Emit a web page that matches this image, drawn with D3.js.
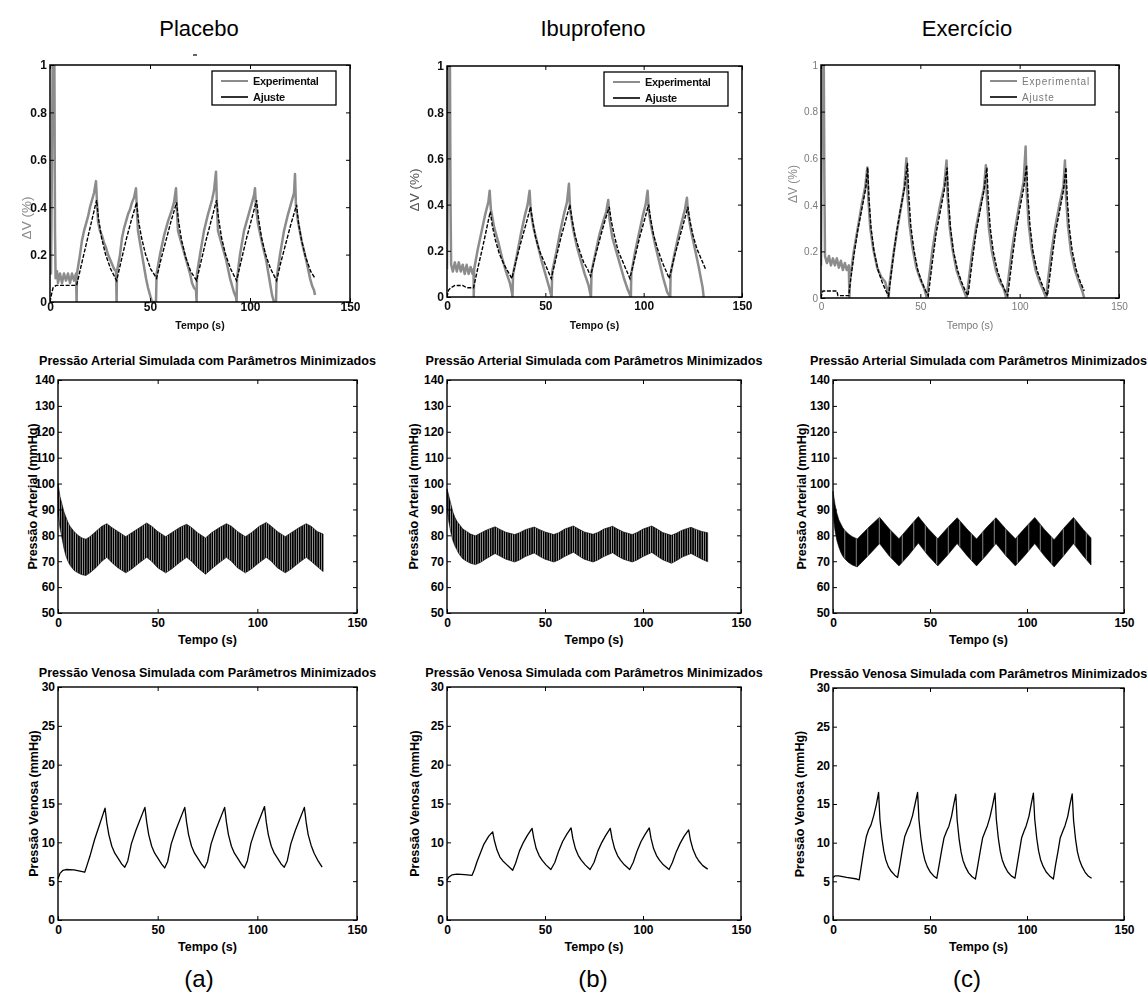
<!DOCTYPE html>
<html>
<head>
<meta charset="utf-8">
<script src="https://cdn.jsdelivr.net/npm/d3@7"></script>
<style>
  body { margin: 0; background: #fff; }
  svg { display: block; }
</style>
</head>
<body>
<svg id="fig" width="1147" height="1005"></svg>
<script>
// ---------------------------------------------------------------
// Groups and tick values
// ---------------------------------------------------------------
const groupNames = ["Placebo", "Ibuprofeno", "Exercício"];
const groupLetters = ["(a)", "(b)", "(c)"];
const timeTicks = [0, 50, 100, 150];
const dvTicks = [0, 0.2, 0.4, 0.6, 0.8, 1];
const dvTickLabels = ["0", "0.2", "0.4", "0.6", "0.8", "1"];
const arterialTicks = [50, 60, 70, 80, 90, 100, 110, 120, 130, 140];
const venousTicks = [0, 5, 10, 15, 20, 25, 30];
const legendLabels = ["Experimental", "Ajuste"];

// ---------------------------------------------------------------
// Volume change ΔV (%) : [time s, value]
// ---------------------------------------------------------------
const dvPlaceboExp = [
  [0,0.14],[0.5,0.12],[1,0.6],[1.3,1.0],[2.2,1.0],[2.5,0.3],[2.8,0.1],[3.5,0.13],[4,0.08],[5,0.12],[6,0.08],
  [7,0.12],[8,0.09],[9,0.12],[10,0.08],[11,0.12],[12,0.09],[13,0.12],[13.3,0.0],[13.5,0.12],[15,0.2],[16,0.26],
  [17,0.3],[18,0.33],[19,0.36],[20,0.4],[21,0.43],[22,0.46],[23,0.51],[23.5,0.42],[24,0.34],[25,0.3],[26,0.28],
  [27,0.25],[28,0.23],[29,0.2],[30,0.18],[31,0.16],[32,0.14],[33,0.13],[33.3,0.0],[33.5,0.13],[35,0.2],[36,0.27],
  [37,0.31],[38,0.34],[39,0.37],[40,0.39],[41,0.42],[42,0.44],[43,0.48],[43.5,0.38],[44,0.3],[45,0.25],[46,0.2],
  [47,0.15],[48,0.1],[49,0.06],[50,0.03],[51,0.0],[53,0.0],[53.3,0.12],[55,0.2],[57,0.28],[59,0.34],[61,0.39],
  [62,0.42],[63,0.48],[63.5,0.38],[64,0.3],[66,0.24],[68,0.18],[70,0.12],[71,0.08],[72,0.06],[73,0.05],[73.3,0.0],
  [73.5,0.12],[75,0.2],[77,0.3],[79,0.37],[81,0.43],[82,0.47],[83,0.55],[83.5,0.4],[84,0.3],[86,0.24],[88,0.18],
  [90,0.1],[91,0.07],[92,0.04],[93,0.02],[93.3,0.0],[93.5,0.1],[95,0.2],[97,0.3],[99,0.36],[101,0.42],[102,0.45],
  [102.5,0.48],[103,0.4],[104,0.33],[106,0.25],[108,0.18],[110,0.08],[111,0.03],[112,0.0],[113,0.0],[113.3,0.1],
  [115,0.2],[117,0.3],[119,0.37],[121,0.43],[122,0.46],[122.5,0.54],[123,0.4],[124,0.34],[126,0.25],[128,0.18],
  [130,0.1],[131,0.07],[132,0.05],[132.5,0.03]
];
const dvPlaceboFit = [
  [0,0],[0.7,0.03],[1.5,0.06],[3,0.07],[8,0.07],[13.3,0.07],
  [15.5,0.15],[18,0.24],[20.5,0.33],[23.3,0.43],[24.3,0.35],[25.8,0.27],[27.8,0.2],[30.3,0.14],[33.3,0.09],
  [35.5,0.17],[38,0.26],[40.5,0.34],[43.3,0.42],[44.3,0.34],[45.8,0.27],[47.8,0.2],[50.3,0.14],[53.3,0.1],
  [55.5,0.18],[58,0.26],[60.5,0.34],[63.3,0.42],[64.3,0.34],[65.8,0.26],[67.8,0.19],[70.3,0.13],[73.3,0.09],
  [75.5,0.17],[78,0.26],[80.5,0.34],[83.3,0.43],[84.3,0.35],[85.8,0.27],[87.8,0.2],[90.3,0.14],[93.3,0.09],
  [95.5,0.17],[98,0.26],[100.5,0.34],[103.3,0.43],[104.3,0.35],[105.8,0.27],[107.8,0.2],[110.3,0.14],[113.3,0.09],
  [115.5,0.17],[118,0.25],[120.5,0.33],[123.3,0.41],[124.3,0.33],[125.8,0.26],[127.8,0.19],[130.3,0.13],[132.5,0.1]
];

const dvIbuprofenoExp = [
  [0,0.12],[0.4,0.5],[0.7,1.0],[1.5,1.0],[1.8,0.4],[2.1,0.14],[3,0.11],[4,0.15],[5,0.11],[6,0.15],[7,0.11],
  [8,0.14],[9,0.1],[10,0.14],[11,0.1],[12,0.13],[13,0.1],[13.5,0.12],[13.6,0.0],[13.8,0.12],[15.5,0.2],[17.5,0.28],
  [19.5,0.36],[21,0.41],[21.7,0.46],[22.3,0.38],[24,0.3],[26,0.24],[28,0.17],[30,0.11],[32,0.06],[33,0.02],
  [33.3,0.0],[33.6,0.1],[35.5,0.18],[37.5,0.27],[39.5,0.35],[41,0.4],[42,0.46],[42.6,0.37],[44,0.3],[46,0.23],
  [48,0.16],[50,0.1],[52,0.04],[53.2,0.0],[53.5,0.11],[55.5,0.19],[57.5,0.28],[59.5,0.36],[61,0.41],[62,0.49],
  [62.6,0.38],[64,0.3],[66,0.22],[68,0.16],[70,0.1],[72,0.05],[73.2,0.0],[73.5,0.11],[75.5,0.19],[77.5,0.27],
  [79.5,0.33],[81,0.37],[82,0.42],[82.6,0.34],[84,0.26],[86,0.2],[88,0.14],[90,0.08],[92,0.03],[93.5,0.0],
  [93.7,0.1],[95.5,0.19],[97.5,0.27],[99.5,0.35],[101,0.4],[102,0.46],[102.6,0.37],[104,0.3],[106,0.22],
  [108,0.15],[110,0.08],[112,0.02],[113.5,0.0],[113.7,0.1],[115.5,0.18],[117.5,0.26],[119.5,0.33],[121,0.38],
  [122,0.43],[122.6,0.36],[124,0.29],[126,0.21],[128,0.13],[130,0.04],[130.5,0.0]
];
const dvIbuprofenoFit = [
  [0,0],[0.8,0.03],[2,0.04],[4,0.05],[8,0.05],[10,0.04],[13.5,0.04],
  [15.8,0.13],[18,0.21],[20,0.29],[22,0.37],[23,0.31],[24.5,0.25],[26.5,0.19],[29,0.14],[31,0.11],[33,0.08],
  [35.5,0.17],[38,0.25],[40.3,0.32],[42.5,0.39],[43.5,0.33],[45,0.26],[47,0.2],[49.5,0.15],[51.5,0.11],[53,0.08],
  [55.5,0.17],[58,0.26],[60.3,0.33],[62.5,0.4],[63.5,0.34],[65,0.27],[67,0.21],[69.5,0.15],[71.5,0.12],[73,0.09],
  [75.5,0.18],[78,0.26],[80.3,0.33],[82.5,0.39],[83.5,0.33],[85,0.27],[87,0.2],[89.5,0.15],[91.5,0.11],[93,0.08],
  [95.5,0.17],[98,0.26],[100.3,0.33],[102.5,0.4],[103.5,0.34],[105,0.27],[107,0.21],[109.5,0.15],[111.5,0.11],[113,0.08],
  [115.5,0.17],[118,0.25],[120.3,0.32],[122.5,0.39],[123.5,0.33],[125,0.27],[127,0.21],[129.5,0.16],[131.5,0.12]
];

const dvExercicioExp = [
  [0,0.14],[0.3,0.6],[0.6,1.0],[1.4,1.0],[1.7,0.5],[2,0.18],[3,0.15],[4,0.18],[5,0.14],[6,0.17],[7,0.14],
  [8,0.17],[9,0.13],[10,0.16],[11,0.12],[12,0.15],[13,0.12],[14,0.14],[14.3,0.0],[14.6,0.08],[16.5,0.2],
  [18.5,0.3],[20.5,0.4],[22.3,0.48],[23.3,0.56],[23.8,0.43],[24.8,0.3],[26.3,0.21],[28.3,0.13],[30.3,0.09],
  [32.3,0.07],[33.5,0.03],[34,0.0],[34.5,0.06],[36.5,0.19],[38.5,0.3],[40.5,0.4],[42,0.48],[43,0.6],[43.5,0.45],
  [44.5,0.32],[46,0.22],[48,0.13],[50,0.08],[52,0.04],[53.3,0.0],[54,0.06],[56,0.2],[58,0.31],[60,0.4],[62,0.48],
  [63.2,0.59],[63.7,0.44],[64.7,0.31],[66.2,0.21],[68.2,0.12],[70.2,0.07],[72,0.03],[73.3,0.0],[74,0.05],[76,0.19],
  [78,0.3],[80,0.39],[82,0.47],[83,0.57],[83.5,0.43],[84.5,0.3],[86,0.2],[88,0.12],[90,0.07],[92,0.04],[93.3,0.0],
  [94,0.06],[96,0.2],[98,0.31],[100,0.41],[102,0.5],[103,0.65],[103.5,0.46],[104.5,0.32],[106,0.21],[108,0.12],
  [110,0.07],[112,0.03],[113.3,0.0],[114,0.06],[116,0.2],[118,0.31],[120,0.4],[122,0.48],[122.8,0.59],[123.3,0.44],
  [124.3,0.31],[125.8,0.2],[127.8,0.12],[129.8,0.07],[131.5,0.03],[132.5,0.0]
];
const dvExercicioFit = [
  [0,0],[0.5,0.02],[1,0.03],[8,0.03],[8.5,0.01],[14,0.01],
  [14.5,0.05],[16.5,0.18],[18.5,0.29],[20.5,0.38],[22.5,0.47],[23.5,0.56],[24.2,0.42],[25.2,0.3],[26.7,0.2],[28.7,0.12],[30.7,0.07],[32.7,0.03],[34,0.01],
  [36,0.15],[38,0.28],[40,0.38],[42,0.47],[43.5,0.58],[44.2,0.44],[45.2,0.31],[46.7,0.21],[48.7,0.12],[50.7,0.07],[52.7,0.03],[54,0.01],
  [56,0.15],[58,0.28],[60,0.37],[62,0.46],[63.5,0.56],[64.2,0.42],[65.2,0.3],[66.7,0.2],[68.7,0.12],[70.7,0.07],[72.7,0.03],[74,0.01],
  [76,0.15],[78,0.28],[80,0.37],[82,0.46],[83.5,0.56],[84.2,0.42],[85.2,0.3],[86.7,0.2],[88.7,0.12],[90.7,0.07],[92.7,0.03],[94,0.01],
  [96,0.15],[98,0.28],[100,0.38],[102,0.47],[103.5,0.57],[104.2,0.43],[105.2,0.31],[106.7,0.2],[108.7,0.12],[110.7,0.07],[112.7,0.03],[114,0.01],
  [116,0.15],[118,0.28],[120,0.37],[122,0.46],[123.3,0.56],[124,0.42],[125,0.3],[126.5,0.2],[128.5,0.12],[130.5,0.07],[132.5,0.03]
];

// ---------------------------------------------------------------
// Simulated arterial pressure, beat-to-beat envelope:
// [time s, minimum mmHg, maximum mmHg]
// ---------------------------------------------------------------
const artPlacebo = [
  [0,88,100],[1,83,95],[2,79,92],[3,75,89],[4,72,87],[5,70,85],[6,68.5,83.5],[8,66.5,81.5],[10,65.5,80],
  [12,64.8,79],[14,64.5,78.5],[16,65.5,79.5],[19,67.5,81.5],[22,70,83.5],[24.5,71.5,84.5],[27,69.5,83],
  [30,67.5,81.5],[34,65.5,79.5],[37,67,81],[41,69.5,83],[44.5,71.5,84.8],[47,70,83.5],[50,67.5,81.5],
  [54,65.5,79.5],[57,67,81],[61,69.5,83],[64.5,71.5,84.3],[67,70,83],[70,67.5,81],[74,65,79],[77,67,81],
  [81,69.5,83],[84.5,71.5,84.5],[87,70,83.5],[90,67.5,81.5],[94,65.5,79.5],[97,67,81],[101,69.5,83.5],
  [104.5,71.5,85],[107,70,83.5],[110,67.5,81.5],[114,65.5,79.5],[117,67,81],[121,69.5,83],[124.5,71.5,84.5],
  [127,70,83.5],[130,68,81.5],[133,66,80.5]
];
const artIbuprofeno = [
  [0,90,98],[1,85,95],[2,81,92],[3,78,89],[4,76,87],[5,74.5,85.5],[6,73,84.5],[8,71,82.5],[10,70,81.5],
  [12,69.2,80.5],[14.5,68.7,79.8],[17,69.5,80.8],[20,71,82],[24.5,73,83.3],[27,72,82.3],[30,70.8,81.2],
  [34.5,69.7,80.3],[37,70.5,81],[40,71.8,82.2],[44.5,73.2,83.2],[47,72,82.3],[50,70.8,81.3],[54.5,69.7,80.3],
  [57,70.5,81],[60,71.8,82.4],[64.5,73.5,83.6],[67,72.2,82.5],[70,70.8,81.3],[74.5,69.7,80.4],[77,70.5,81.1],
  [80,71.8,82.4],[84.5,73.3,83.5],[87,72,82.4],[90,70.8,81.3],[94.5,69.7,80.3],[97,70.5,81.1],[100,71.8,82.4],
  [104.5,73.4,83.6],[107,72.1,82.5],[110,70.6,81.1],[114.5,69.2,80],[117,70.2,80.8],[120,71.6,82],
  [124.5,73,83.1],[127,72,82.3],[130,70.8,81.5],[133,69.8,81]
];
const artExercicio = [
  [0,88,97],[1,82,92],[2,78,88.5],[3,75.5,86],[4,73.5,84.5],[5,72,83],[6,71,82],[8,69.5,80.5],[10,68.5,79.5],
  [12.5,67.8,78.6],[18,72,82.8],[24,76.8,87],[29,72,82.5],[34,68.2,78.7],[39,72.3,83],[44,77,87.3],[49,72.2,82.6],
  [54,68.2,78.7],[59,72.3,82.9],[64,76.8,86.8],[69,72.2,82.5],[74,68.2,78.6],[79,72.3,82.9],[84,76.8,86.8],
  [89,72.2,82.5],[94,68.2,78.7],[99,72.3,82.9],[104,76.8,86.9],[109,72,82.3],[114,67.8,78.3],[119,72.2,82.8],
  [124,76.8,86.9],[129,72,82.3],[133,68.5,79]
];

// ---------------------------------------------------------------
// Simulated venous pressure : [time s, mmHg]
// ---------------------------------------------------------------
const venPlacebo = [
  [0,5.3],[1,6.0],[2.5,6.4],[4,6.5],[8,6.45],[13.4,6.15],[14.5,7.0],[16,8.2],[18.4,10.4],[21,12.4],[23.6,14.4],
  [24.5,12.5],[25.5,11.0],[27,9.5],[28.5,8.6],[30.5,7.8],[32,7.2],[33.5,6.8],
  [35,7.6],[36.8,9.8],[39,11.5],[41,12.8],[43.6,14.5],
  [44.5,12.6],[45.5,11.0],[47,9.5],[48.5,8.6],[50.5,7.8],[52,7.2],[53.5,6.7],
  [55,7.5],[56.8,9.8],[59,11.5],[61,12.8],[63.6,14.5],
  [64.5,12.6],[65.5,11.0],[67,9.5],[68.5,8.6],[70.5,7.8],[72,7.2],[73.5,6.7],
  [75,7.5],[76.8,9.8],[79,11.5],[81,12.8],[83.6,14.5],
  [84.5,12.6],[85.5,11.0],[87,9.5],[88.5,8.6],[90.5,7.8],[92,7.2],[93.5,6.7],
  [95,7.6],[96.8,9.9],[99,11.6],[101,12.9],[103.6,14.6],
  [104.5,12.6],[105.5,11.0],[107,9.5],[108.5,8.6],[110.5,7.8],[112,7.2],[113.5,6.8],
  [115,7.6],[116.8,9.8],[119,11.5],[121,12.8],[123.6,14.5],
  [124.5,12.6],[125.5,11.0],[127,9.6],[128.5,8.6],[130.5,7.6],[132.5,6.8]
];
const venIbuprofeno = [
  [0,5.1],[0.8,5.5],[2.5,5.8],[5,5.9],[9,5.85],[12.8,5.75],[14,6.5],[15.3,7.5],[17,8.6],[18.7,9.7],[21.3,10.8],[23.3,11.35],
  [24.2,10.2],[25.5,9.0],[27,8.1],[28.5,7.6],[30.6,7.1],[33.5,6.4],
  [35,7.3],[37,8.9],[39,10.0],[41,10.9],[43.4,11.8],[44.3,10.5],[45.5,9.2],[47,8.3],[48.5,7.7],[50.5,7.1],[53,6.5],
  [55,7.4],[57,8.9],[59,10.1],[61,11.0],[63.3,11.85],[64.2,10.5],[65.5,9.2],[67,8.3],[68.5,7.7],[70.5,7.1],[73,6.5],
  [75,7.4],[77,8.9],[79,10.0],[81,10.9],[83.3,11.8],[84.2,10.5],[85.5,9.2],[87,8.3],[88.5,7.7],[90.5,7.1],[93.2,6.5],
  [95,7.4],[97,8.9],[99,10.1],[101,11.0],[103.2,11.85],[104.1,10.5],[105.4,9.2],[106.9,8.3],[108.4,7.7],[110.4,7.1],[113.3,6.5],
  [115,7.4],[117,8.8],[119,9.9],[121,10.8],[123.3,11.6],[124.2,10.3],[125.5,9.1],[127,8.2],[128.5,7.6],[130.5,7.0],[133,6.55]
];
const venExercicio = [
  [0,5.5],[1,5.7],[2.9,5.7],[7,5.5],[12.3,5.3],[13.5,5.2],[14.5,6.8],[15.8,8.9],[17.2,10.8],[18.4,11.7],[19.6,12.3],[21,13.5],[22.3,14.9],[23.5,16.5],
  [24.2,13.0],[25.2,10.6],[26.2,8.9],[27.2,7.8],[28.5,6.9],[30,6.3],[31.8,5.8],[33.3,5.5],
  [34.5,7.2],[35.8,9.2],[37,10.8],[38.4,11.7],[39.5,12.3],[41,13.5],[42.3,15.0],[43.6,16.5],
  [44.3,13.0],[45.3,10.6],[46.3,8.9],[47.3,7.8],[48.6,6.9],[50.1,6.2],[51.9,5.7],[53.5,5.4],
  [54.7,7.1],[56,9.0],[57.2,10.6],[58.6,11.5],[59.7,12.1],[61.1,13.4],[62.2,14.9],[63.3,16.25],
  [64,12.9],[65,10.5],[66,8.8],[67,7.7],[68.4,6.8],[69.9,6.1],[71.7,5.6],[73.4,5.3],
  [74.6,7.0],[75.9,8.9],[77.1,10.6],[78.5,11.5],[79.6,12.2],[81,13.4],[82.3,14.9],[83.5,16.4],
  [84.2,13.0],[85.2,10.6],[86.2,8.9],[87.2,7.8],[88.6,6.9],[90.1,6.2],[91.9,5.7],[93.8,5.4],
  [94.9,7.1],[96.1,8.9],[97.2,10.6],[98.5,11.5],[99.6,12.2],[101,13.4],[102.1,14.9],[103.3,16.4],
  [104,13.0],[105,10.6],[106,8.9],[107,7.8],[108.4,6.9],[109.9,6.2],[111.7,5.7],[113.6,5.3],
  [114.7,7.1],[116,8.9],[117.1,10.6],[118.5,11.5],[119.6,12.2],[121,13.4],[122.1,14.9],[123.3,16.3],
  [124,12.9],[125,10.5],[126,8.8],[127,7.8],[128.4,6.9],[129.9,6.2],[131.5,5.7],[133.3,5.4]
];

// ---------------------------------------------------------------
// Page layout
// ---------------------------------------------------------------
const W = 1147, H = 1005;
const FONT = "'Liberation Sans', Arial, Helvetica, sans-serif";

const columns = [
  { header: groupNames[0], letter: groupLetters[0], cx: 199,
    dvExp: dvPlaceboExp, dvFit: dvPlaceboFit, art: artPlacebo, ven: venPlacebo,
    top: { l: 50, r: 350, t: 65, b: 302 },
    mid: { l: 58, r: 357, t: 380, b: 613 },
    bot: { l: 58, r: 357, t: 687, b: 920 },
    faint: false, beats: "beatsThin", topPad: 0, yLab: [26, 218], yLabFill: "#8a8a8a" },
  { header: groupNames[1], letter: groupLetters[1], cx: 593,
    dvExp: dvIbuprofenoExp, dvFit: dvIbuprofenoFit, art: artIbuprofeno, ven: venIbuprofeno,
    top: { l: 447, r: 742, t: 66, b: 297 },
    mid: { l: 447, r: 741, t: 380, b: 613 },
    bot: { l: 447, r: 741, t: 687, b: 920 },
    faint: false, beats: "beatsThin", topPad: 4, yLab: [414, 190], yLabFill: "#555" },
  { header: groupNames[2], letter: groupLetters[2], cx: 967,
    dvExp: dvExercicioExp, dvFit: dvExercicioFit, art: artExercicio, ven: venExercicio,
    top: { l: 821, r: 1119, t: 65, b: 298 },
    mid: { l: 833, r: 1124, t: 380, b: 613 },
    bot: { l: 833, r: 1124, t: 688, b: 920 },
    faint: true, beats: "beatsDense", topPad: 5, yLab: [792, 184], yLabFill: "#8a8a8a" }
];

const svg = d3.select("#fig");
svg.append("rect").attr("width", W).attr("height", H).attr("fill", "#fff");

const defs = svg.append("defs");
defs.append("filter").attr("id", "soft")
  .attr("x", "-5%").attr("y", "-5%").attr("width", "110%").attr("height", "110%")
  .append("feGaussianBlur").attr("stdDeviation", 0.45);

// vertical strokes standing for the individual heart beats
const pThin = defs.append("pattern").attr("id", "beatsThin")
  .attr("patternUnits", "userSpaceOnUse").attr("width", 2.3).attr("height", 20);
pThin.append("rect").attr("width", 1.8).attr("height", 20).attr("fill", "#000");

const pDense = defs.append("pattern").attr("id", "beatsDense")
  .attr("patternUnits", "userSpaceOnUse").attr("width", 11.5).attr("height", 20);
pDense.append("rect").attr("width", 11.5).attr("height", 20).attr("fill", "#000");
pDense.append("rect").attr("x", 5).attr("width", 0.7).attr("height", 20).attr("fill", "#fff").attr("opacity", 0.75);

// ---------------------------------------------------------------
// Box with inward ticks on all four sides (MATLAB style)
// ---------------------------------------------------------------
function boxAxes(g, x, y, o) {
  const [x0, x1] = x.range();
  const [y0, y1] = y.range(); // y0 bottom, y1 top
  const bottom = g.append("g").attr("transform", `translate(0,${y0})`)
    .call(d3.axisBottom(x).tickValues(o.xTicks).tickSizeInner(-o.tick).tickSizeOuter(0)
      .tickPadding(o.xPad).tickFormat(d3.format("d")));
  const left = g.append("g").attr("transform", `translate(${x0},0)`)
    .call(d3.axisLeft(y).tickValues(o.yTicks).tickSizeInner(-o.tick).tickSizeOuter(0)
      .tickPadding(o.yPad).tickFormat((d, i) => o.yLabels ? o.yLabels[i] : d));
  const top = g.append("g").attr("transform", `translate(0,${y1})`)
    .call(d3.axisTop(x).tickValues(o.xTicks).tickSizeInner(-o.tick).tickSizeOuter(0).tickFormat(""));
  const right = g.append("g").attr("transform", `translate(${x1},0)`)
    .call(d3.axisRight(y).tickValues(o.yTicks).tickSizeInner(-o.tick).tickSizeOuter(0).tickFormat(""));
  [bottom, left, top, right].forEach(a => {
    a.select(".domain").remove();
    a.selectAll(".tick line").attr("stroke", "#000").attr("stroke-width", o.tickW);
    a.attr("font-family", FONT).attr("font-size", o.fontSize).attr("font-weight", o.weight);
    a.selectAll("text").attr("fill", o.color);
  });
  g.append("rect")
    .attr("x", x0).attr("y", y1).attr("width", x1 - x0).attr("height", y0 - y1)
    .attr("fill", "none").attr("stroke", "#000").attr("stroke-width", o.frameW);
}

// ---------------------------------------------------------------
// Column headers and panel letters
// ---------------------------------------------------------------
columns.forEach(c => {
  svg.append("text").attr("x", c.cx).attr("y", 36).attr("text-anchor", "middle")
    .attr("font-family", FONT).attr("font-size", 22).attr("fill", "#000").text(c.header);
  svg.append("text").attr("x", c.cx).attr("y", 987).attr("text-anchor", "middle")
    .attr("font-family", FONT).attr("font-size", 24).attr("fill", "#000").text(c.letter);
});

// ---------------------------------------------------------------
// Row 1: measured and fitted volume change
// ---------------------------------------------------------------
columns.forEach((c, ci) => {
  const p = c.top;
  const g = svg.append("g").attr("filter", "url(#soft)");
  const x = d3.scaleLinear().domain([0, 150]).range([p.l, p.r]);
  const y = d3.scaleLinear().domain([0, 1]).range([p.b, p.t]);
  const ink = c.faint ? "#7a7a7a" : "#111";

  const clip = "clipTop" + ci;
  defs.append("clipPath").attr("id", clip).append("rect")
    .attr("x", p.l).attr("y", p.t).attr("width", p.r - p.l).attr("height", p.b - p.t);

  const line = d3.line().x(d => x(d[0])).y(d => y(d[1]));
  const plot = g.append("g").attr("clip-path", `url(#${clip})`);
  plot.append("path").datum(c.dvExp).attr("d", line)
    .attr("fill", "none").attr("stroke", "#8c8c8c").attr("stroke-width", 2.5).attr("stroke-linejoin", "round");
  plot.append("path").datum(c.dvFit).attr("d", line)
    .attr("fill", "none").attr("stroke", "#000").attr("stroke-width", 1.4)
    .attr("stroke-dasharray", "4,1.6");

  boxAxes(g, x, y, {
    xTicks: timeTicks, yTicks: dvTicks, yLabels: dvTickLabels,
    tick: 4, tickW: 1, frameW: 1.5, xPad: c.topPad, yPad: 3,
    fontSize: c.faint ? 10 : 12, weight: c.faint ? "normal" : "bold", color: ink
  });

  // legend
  const lw = c.faint ? 114 : 124;
  const lx = p.r - 138, ly = p.t + 6;
  g.append("rect").attr("x", lx).attr("y", ly).attr("width", lw).attr("height", 34)
    .attr("fill", "#fff").attr("stroke", "#000").attr("stroke-width", 1.3);
  const entries = [
    { label: legendLabels[0], stroke: "#8c8c8c", w: 2 },
    { label: legendLabels[1], stroke: "#000", w: 1.6 }
  ];
  entries.forEach((e, i) => {
    const yy = ly + 10 + i * 16;
    g.append("line").attr("x1", lx + 9).attr("x2", lx + 36).attr("y1", yy).attr("y2", yy)
      .attr("stroke", e.stroke).attr("stroke-width", e.w);
    g.append("text").attr("x", lx + 41).attr("y", yy + 3.5)
      .attr("font-family", FONT).attr("font-size", c.faint ? 10 : 11)
      .attr("font-weight", c.faint ? "normal" : "bold")
      .attr("letter-spacing", c.faint ? 0.8 : -0.3)
      .attr("fill", ink).text(e.label);
  });

  // axis titles
  g.append("text").attr("x", (p.l + p.r) / 2).attr("y", 329).attr("text-anchor", "middle")
    .attr("font-family", FONT).attr("font-size", 10.5).attr("font-weight", c.faint ? "normal" : "bold")
    .attr("fill", ink).text("Tempo (s)");
  g.append("text").attr("transform", `translate(${c.yLab[0] + 5},${c.yLab[1]}) rotate(-90)`)
    .attr("text-anchor", "middle").attr("font-family", FONT).attr("font-size", c.faint ? 12 : 13.5)
    .attr("fill", c.yLabFill).text("ΔV (%)");
  if (ci === 0) {
    g.append("line").attr("x1", 193).attr("x2", 197).attr("y1", 55).attr("y2", 55)
      .attr("stroke", "#000").attr("stroke-width", 1.2);
  }
});

// ---------------------------------------------------------------
// Rows 2 and 3: simulated pressures
// ---------------------------------------------------------------
function pressurePanel(p, title, titleGap, yDomain, yTicks, yTitle, yTitleX, draw) {
  const g = svg.append("g");
  const x = d3.scaleLinear().domain([0, 150]).range([p.l, p.r]);
  const y = d3.scaleLinear().domain(yDomain).range([p.b, p.t]);
  draw(g, x, y);
  boxAxes(g, x, y, {
    xTicks: timeTicks, yTicks: yTicks,
    tick: 4, tickW: 1, frameW: 1.4, xPad: 5, yPad: 3,
    fontSize: 12, weight: "bold", color: "#000"
  });
  g.append("text").attr("x", (p.l + p.r) / 2).attr("y", p.t - titleGap).attr("text-anchor", "middle")
    .attr("font-family", FONT).attr("font-size", 12.6).attr("font-weight", "bold").text(title);
  g.append("text").attr("x", (p.l + p.r) / 2).attr("y", p.b + 31).attr("text-anchor", "middle")
    .attr("font-family", FONT).attr("font-size", 12.5).attr("font-weight", "bold").text("Tempo (s)");
  g.append("text").attr("transform", `translate(${yTitleX},${(p.t + p.b) / 2}) rotate(-90)`)
    .attr("text-anchor", "middle").attr("font-family", FONT).attr("font-size", 12.5)
    .attr("font-weight", "bold").text(yTitle);
}

columns.forEach((c, ci) => {
  pressurePanel(c.mid, "Pressão Arterial Simulada com Parâmetros Minimizados", 15,
    [50, 140], arterialTicks, "Pressão Arterial (mmHg)", [37, 418, 806][ci],
    (g, x, y) => {
      const band = d3.area().x(d => x(d[0])).y0(d => y(d[1])).y1(d => y(d[2]));
      g.append("path").datum(c.art).attr("d", band).attr("fill", `url(#${c.beats})`)
        .attr("stroke", "#000").attr("stroke-width", 0.6);
    });
  pressurePanel(c.bot, "Pressão Venosa Simulada com Parâmetros Minimizados", 10,
    [0, 30], venousTicks, "Pressão Venosa (mmHg)", [38, 419, 804][ci],
    (g, x, y) => {
      const line = d3.line().x(d => x(d[0])).y(d => y(d[1]));
      g.append("path").datum(c.ven).attr("d", line).attr("fill", "none")
        .attr("stroke", "#000").attr("stroke-width", 1.3).attr("stroke-linejoin", "round");
    });
});
</script>
</body>
</html>
